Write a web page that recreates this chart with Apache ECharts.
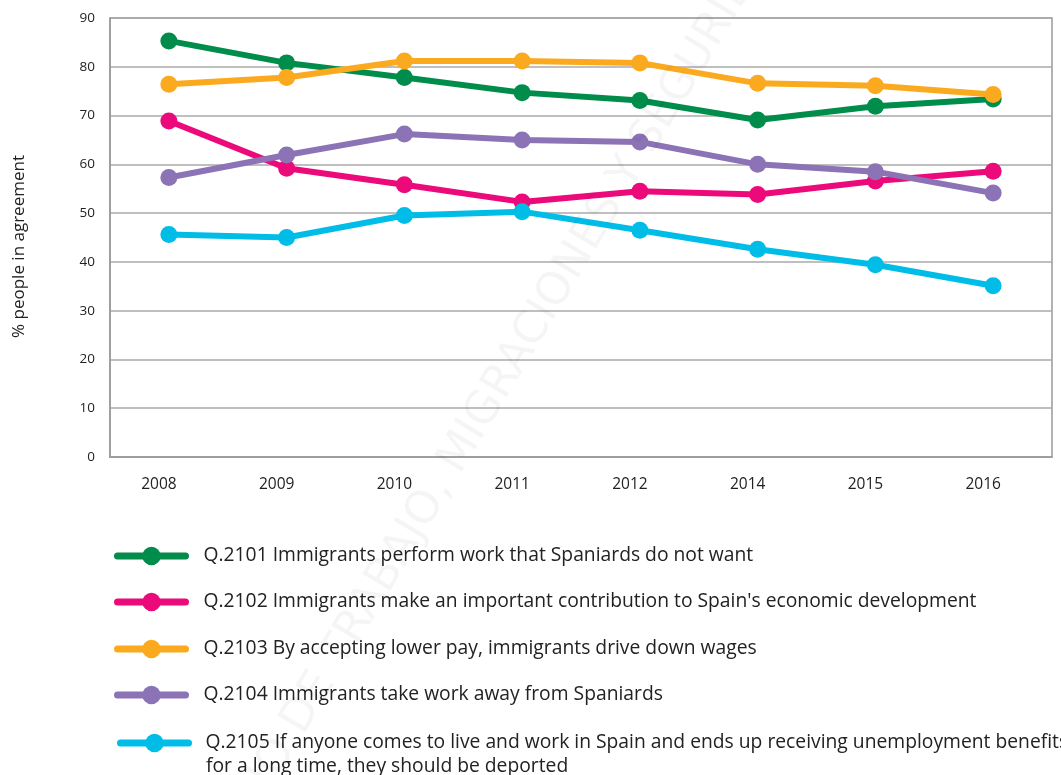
<!DOCTYPE html>
<html>
<head>
<meta charset="utf-8">
<script src="https://cdn.jsdelivr.net/npm/echarts@6/dist/echarts.min.js"></script>
<style>
  html, body { margin: 0; padding: 0; background: #fff; }
  #chart { width: 1061px; height: 775px; }
</style>
</head>
<body>
<div id="chart"></div>
<script>
// Survey years (2013 not surveyed)
const years = ['2008', '2009', '2010', '2011', '2012', '2014', '2015', '2016'];

// % of people in agreement with each statement
const q2101 = [85.3, 80.8, 77.8, 74.7, 73.1, 69.1, 71.9, 73.4];
const q2102 = [68.9, 59.2, 55.8, 52.3, 54.5, 53.8, 56.6, 58.6];
const q2103 = [76.4, 77.8, 81.2, 81.2, 80.8, 76.6, 76.1, 74.3];
const q2104 = [57.3, 61.9, 66.2, 65.0, 64.6, 60.0, 58.5, 54.1];
const q2105 = [45.6, 45.0, 49.5, 50.3, 46.5, 42.6, 39.4, 35.1];

const seriesNames = [
  'Q.2101 Immigrants perform work that Spaniards do not want',
  'Q.2102 Immigrants make an important contribution to Spain\'s economic development',
  'Q.2103 By accepting lower pay, immigrants drive down wages',
  'Q.2104 Immigrants take work away from Spaniards',
  'Q.2105 If anyone comes to live and work in Spain and ends up receiving unemployment benefits\nfor a long time, they should be deported'
];
const seriesData = [q2101, q2102, q2103, q2104, q2105];
const colors = ['#008C4A', '#EC0A7B', '#FBAA1F', '#8B73B6', '#00BDE8'];

const yTicks = { min: 0, max: 90, interval: 10 };

const watermark = 'MINISTERIO DE TRABAJO, MIGRACIONES Y SEGURIDAD SOCIAL';

const FONT = '"Open Sans", Lato, sans-serif';
const LEGEND_FONT_SIZE = 19.3;

const chart = echarts.init(document.getElementById('chart'), null, { renderer: 'canvas' });

// one legend block per row so the vertical spacing can follow the layout
const legendCenters = [558, 604, 651, 697, 745];
const legendLefts = [114, 114, 114, 114, 117];
const ICON_H = 23;

const legends = seriesNames.map((name, i) => ({
  data: [name],
  top: legendCenters[i] - ICON_H / 2,
  left: legendLefts[i],
  padding: 0,
  itemWidth: 68,
  itemHeight: ICON_H,
  selectedMode: false,
  // the wrapped second line is set separately below so the icon stays on the first line
  formatter: (n) => n.split('\n')[0],
  lineStyle: { width: 7, cap: 'round' },
  textStyle: {
    fontFamily: FONT,
    fontSize: LEGEND_FONT_SIZE,
    color: '#222',
    padding: [0, 0, 0, i === 4 ? 12 : 13]
  }
}));

const series = seriesNames.map((name, i) => ({
  name: name,
  type: 'line',
  data: seriesData[i],
  symbol: 'circle',
  symbolSize: 17,
  color: colors[i],
  lineStyle: { width: 6, color: colors[i], cap: 'round', join: 'round' },
  itemStyle: { color: colors[i] },
  emphasis: { disabled: true },
  z: 2 + i
}));

chart.setOption({
  animation: false,
  backgroundColor: '#fff',
  grid: {
    left: 110,
    right: 9,
    top: 18,
    bottom: 318,
    show: true,
    borderColor: '#999',
    borderWidth: 1.5
  },
  legend: legends,
  graphic: [
    {
      type: 'text',
      left: 206,
      top: 757,
      silent: true,
      style: {
        text: seriesNames[4].split('\n')[1],
        fontFamily: FONT,
        fontSize: LEGEND_FONT_SIZE,
        fill: '#222'
      }
    },
    {
      // faint diagonal watermark across the page
      type: 'text',
      x: 150,
      y: 968,
      rotation: 59 * Math.PI / 180,
      silent: true,
      z: 100,
      style: {
        text: watermark,
        fontFamily: '"DejaVu Sans", sans-serif',
        fontSize: 45,
        fill: 'rgba(0,0,0,0.04)',
        align: 'left',
        verticalAlign: 'middle'
      }
    }
  ],
  xAxis: {
    type: 'category',
    data: years,
    boundaryGap: true,
    axisLine: { show: true, lineStyle: { color: '#999', width: 1.5 } },
    axisTick: { show: false },
    axisLabel: {
      color: '#222', fontFamily: FONT, fontSize: 15.5, margin: 20,
      padding: [0, 20, 0, 0]
    },
    splitLine: { show: false }
  },
  yAxis: {
    type: 'value',
    min: yTicks.min,
    max: yTicks.max,
    interval: yTicks.interval,
    name: '% people in agreement',
    nameLocation: 'middle',
    nameGap: 82,
    nameRotate: 90,
    nameTextStyle: {
      color: '#222', fontFamily: FONT, fontSize: 17,
      padding: [0, 18, 0, 0]
    },
    axisLine: { show: true, lineStyle: { color: '#999', width: 1.5 } },
    axisTick: { show: false },
    axisLabel: { color: '#222', fontFamily: FONT, fontSize: 13.5, margin: 15 },
    splitLine: { show: true, lineStyle: { color: '#aaa', width: 1.5 } }
  },
  series: series
});
</script>
</body>
</html>
